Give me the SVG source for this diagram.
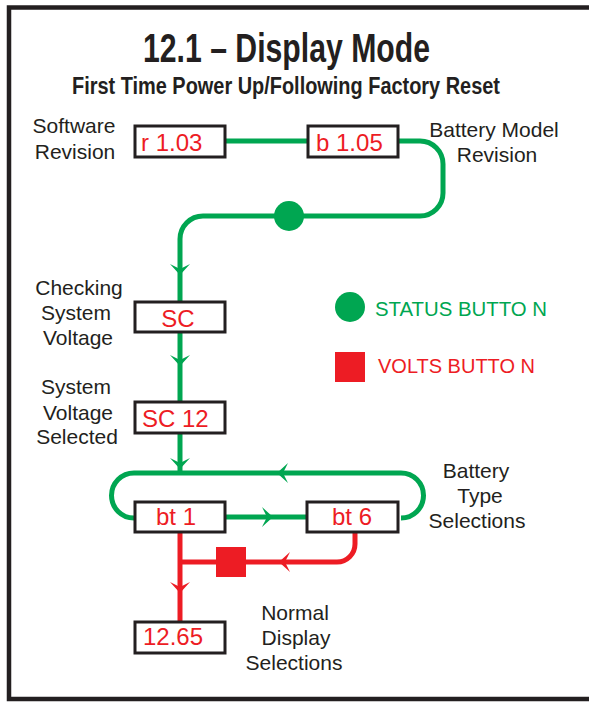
<svg xmlns="http://www.w3.org/2000/svg" xmlns:xlink="http://www.w3.org/1999/xlink" width="589" height="702" viewBox="0 0 589 702">
<style>
.lbl{font-family:"Liberation Sans",Arial,sans-serif;font-size:21px;fill:#231f20;text-anchor:middle}
.val{font-family:"Liberation Sans",Arial,sans-serif;font-size:24px;fill:#ed1c24}
.box{fill:#fff;stroke:#231f20;stroke-width:3}
.g{fill:none;stroke:#00a651;stroke-width:5}
.r{fill:none;stroke:#ed1c24;stroke-width:5}
.ttl{font-family:"Liberation Sans",Arial,sans-serif;font-weight:bold;fill:#231f20}
</style>
<defs>
<path id="ah" d="M0,0 L-10,-11 Q-4,-8 0,-6 Q4,-8 10,-11 Z"/>
</defs>
<rect x="0" y="0" width="589" height="702" fill="#fff"/>
<rect x="9" y="7.5" width="620" height="691.5" fill="none" stroke="#231f20" stroke-width="4.5"/>
<text class="ttl" x="143" y="62" font-size="40" textLength="287" lengthAdjust="spacingAndGlyphs">12.1 – Display Mode</text>
<text class="ttl" x="72" y="94" font-size="23" textLength="428" lengthAdjust="spacingAndGlyphs">First Time Power Up/Following Factory Reset</text>

<g id="connectors">
<path class="g" d="M225,141 L308,141"/>
<path class="g" d="M398,141 L420,141 A23,23 0 0 1 443,164 L443,193 A23,23 0 0 1 420,216 L203,216 A23,23 0 0 0 180,239 L180,302"/>
<path class="g" d="M180,332 L180,402"/>
<path class="g" d="M180,433 L180,473"/>
<path class="g" d="M134,518 A22.5,22.5 0 0 1 134,473 L401,473 A22.5,22.5 0 0 1 401,518"/>
<path class="g" d="M225,517 L307,517"/>
<path class="r" d="M180,532 L180,622"/>
<path class="r" d="M180,562 L337,562 A18,18 0 0 0 355,544 L355,532"/>
<use xlink:href="#ah" fill="#00a651" transform="translate(180,275)"/>
<use xlink:href="#ah" fill="#00a651" transform="translate(180,366)"/>
<use xlink:href="#ah" fill="#00a651" transform="translate(180,469)"/>
<use xlink:href="#ah" fill="#00a651" transform="translate(277,473) rotate(90)"/>
<use xlink:href="#ah" fill="#00a651" transform="translate(273,517) rotate(-90)"/>
<use xlink:href="#ah" fill="#ed1c24" transform="translate(279,562) rotate(90)"/>
<use xlink:href="#ah" fill="#ed1c24" transform="translate(180,593)"/>
<circle cx="289" cy="216" r="15" fill="#00a651"/>
<rect x="216" y="547" width="30" height="30" fill="#ed1c24"/>
</g>

<g id="node-r103">
<rect class="box" x="135" y="126" width="90" height="31"/>
<text class="val" x="141" y="151">r 1.03</text>
<text class="lbl" x="74" y="133">Software</text>
<text class="lbl" x="75" y="159">Revision</text>
</g>
<g id="node-b105">
<rect class="box" x="308" y="126" width="90" height="31"/>
<text class="val" x="316" y="151">b 1.05</text>
<text class="lbl" x="494" y="137">Battery Model</text>
<text class="lbl" x="497" y="162">Revision</text>
</g>
<g id="node-sc">
<rect class="box" x="135" y="302" width="90" height="30"/>
<text class="val" x="178" y="327" text-anchor="middle">SC</text>
<text class="lbl" x="79" y="295">Checking</text>
<text class="lbl" x="76" y="320">System</text>
<text class="lbl" x="78" y="345">Voltage</text>
</g>
<g id="node-sc12">
<rect class="box" x="135" y="402" width="90" height="31"/>
<text class="val" x="142" y="427">SC 12</text>
<text class="lbl" x="76" y="394">System</text>
<text class="lbl" x="78" y="420">Voltage</text>
<text class="lbl" x="77" y="444">Selected</text>
</g>
<g id="node-bt1">
<rect class="box" x="135" y="502" width="90" height="30"/>
<text class="val" x="156" y="525">bt 1</text>
</g>
<g id="node-bt6">
<rect class="box" x="307" y="502" width="91" height="30"/>
<text class="val" x="332" y="525">bt 6</text>
<text class="lbl" x="476" y="478">Battery</text>
<text class="lbl" x="480" y="503">Type</text>
<text class="lbl" x="477" y="528">Selections</text>
</g>
<g id="node-1265">
<rect class="box" x="135" y="622" width="90" height="31"/>
<text class="val" x="143" y="645">12.65</text>
<text class="lbl" x="295" y="620">Normal</text>
<text class="lbl" x="296" y="645">Display</text>
<text class="lbl" x="294" y="670">Selections</text>
</g>
<g id="legend">
<circle cx="350" cy="307" r="15" fill="#00a651"/>
<text x="375" y="316" font-family="Liberation Sans, Arial, sans-serif" font-size="20" fill="#00a651" textLength="172" lengthAdjust="spacingAndGlyphs">STATUS BUTTO N</text>
<rect x="335" y="352" width="30" height="30" fill="#ed1c24"/>
<text x="378" y="373" font-family="Liberation Sans, Arial, sans-serif" font-size="20" fill="#ed1c24" textLength="157" lengthAdjust="spacingAndGlyphs">VOLTS BUTTO N</text>
</g>
</svg>
